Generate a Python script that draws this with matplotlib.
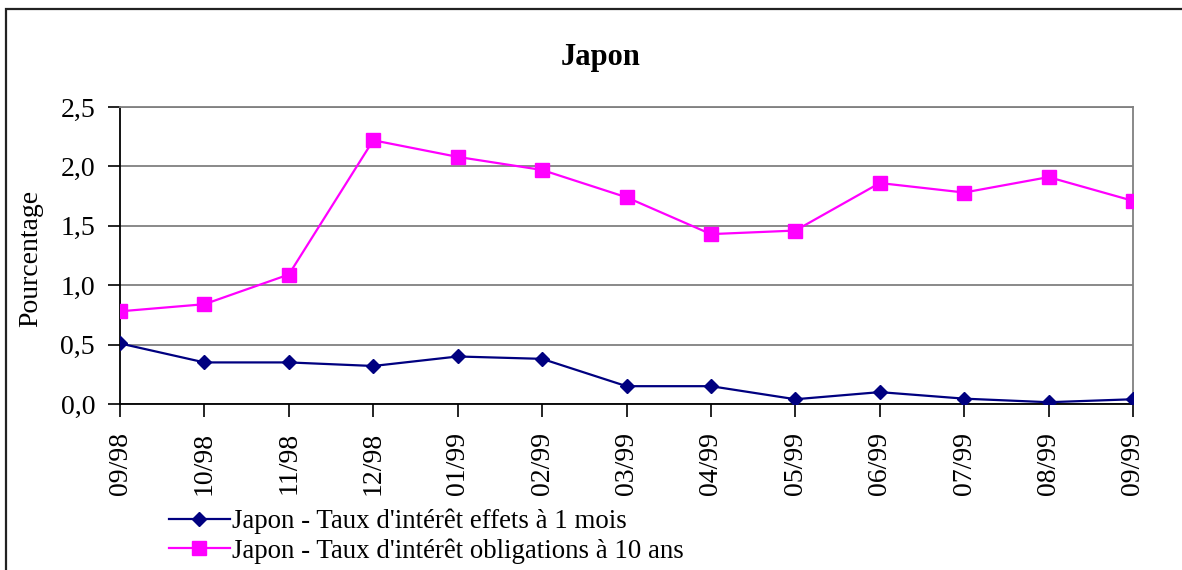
import matplotlib
matplotlib.use("Agg")
import matplotlib.pyplot as plt
from matplotlib.patches import Rectangle

plt.rcParams["font.family"] = ["Liberation Serif", "DejaVu Serif"]

# Monthly observations
months = ["09/98", "10/98", "11/98", "12/98", "01/99", "02/99", "03/99",
          "04/99", "05/99", "06/99", "07/99", "08/99", "09/99"]
taux_1_mois = [0.51, 0.35, 0.35, 0.32, 0.40, 0.38, 0.15,
               0.15, 0.04, 0.10, 0.045, 0.015, 0.04]
taux_10_ans = [0.78, 0.84, 1.09, 2.22, 2.08, 1.97, 1.74,
               1.43, 1.46, 1.86, 1.78, 1.91, 1.71]
y_ticks = [0.0, 0.5, 1.0, 1.5, 2.0, 2.5]
y_tick_labels = ["0,0", "0,5", "1,0", "1,5", "2,0", "2,5"]

label_1_mois = "Japon - Taux d'intérêt effets à 1 mois"
label_10_ans = "Japon - Taux d'intérêt obligations à 10 ans"

W, H = 1182, 570
fig = plt.figure(figsize=(W / 100, H / 100), dpi=100)
fig.patch.set_facecolor("white")

ax = fig.add_axes([120 / W, 1 - 404 / H, (1133 - 120) / W, (404 - 107) / H])

x = list(range(len(months)))
ax.plot(x, taux_1_mois, color="#000080", lw=1.6, marker="D", ms=7,
        mec="#000080", mfc="#000080", label=label_1_mois, zorder=3)
ax.plot(x, taux_10_ans, color="#FF00FF", lw=1.6, marker="s", ms=9.5,
        mec="#FF00FF", mfc="#FF00FF", label=label_10_ans, zorder=3)

ax.set_xlim(0, len(months) - 1)
ax.set_ylim(0, 2.5)
ax.set_xticks(x)
ax.set_xticklabels(months, rotation=90, fontsize=20)
ax.set_yticks(y_ticks)
ax.set_yticklabels(y_tick_labels, fontsize=20)

ax.grid(axis="y", color="#808080", lw=1.3)
ax.set_axisbelow(True)
ax.tick_params(axis="x", direction="out", length=9, width=1.2, pad=11, colors="black")
ax.tick_params(axis="y", direction="out", length=9, width=1.2, pad=9, colors="black")

for side in ("left", "bottom"):
    ax.spines[side].set_color("black")
    ax.spines[side].set_linewidth(1.3)
for side in ("right", "top"):
    ax.spines[side].set_color("#808080")
    ax.spines[side].set_linewidth(1.3)

fig.text(31 / W, 1 - 258 / H, "Pourcentage", rotation=90, fontsize=20,
         ha="center", va="center")
fig.text(601 / W, 1 - 57 / H, "Japon", fontsize=22, fontweight="bold",
         ha="center", va="center")

fig.legend(loc="center left", bbox_to_anchor=(169 / W, 1 - 536 / H),
           frameon=False, fontsize=19.4, handlelength=2.25, handletextpad=0.1,
           labelspacing=0.15, borderpad=0, borderaxespad=0)

# Chart frame, running off the right and bottom edges
fig.add_artist(Rectangle((6 / W, -0.1), 1.2, 1 - 9 / H + 0.1,
                         transform=fig.transFigure, fill=False,
                         lw=1.6, ec="#222222"))

fig.savefig("out.png", dpi=100)
